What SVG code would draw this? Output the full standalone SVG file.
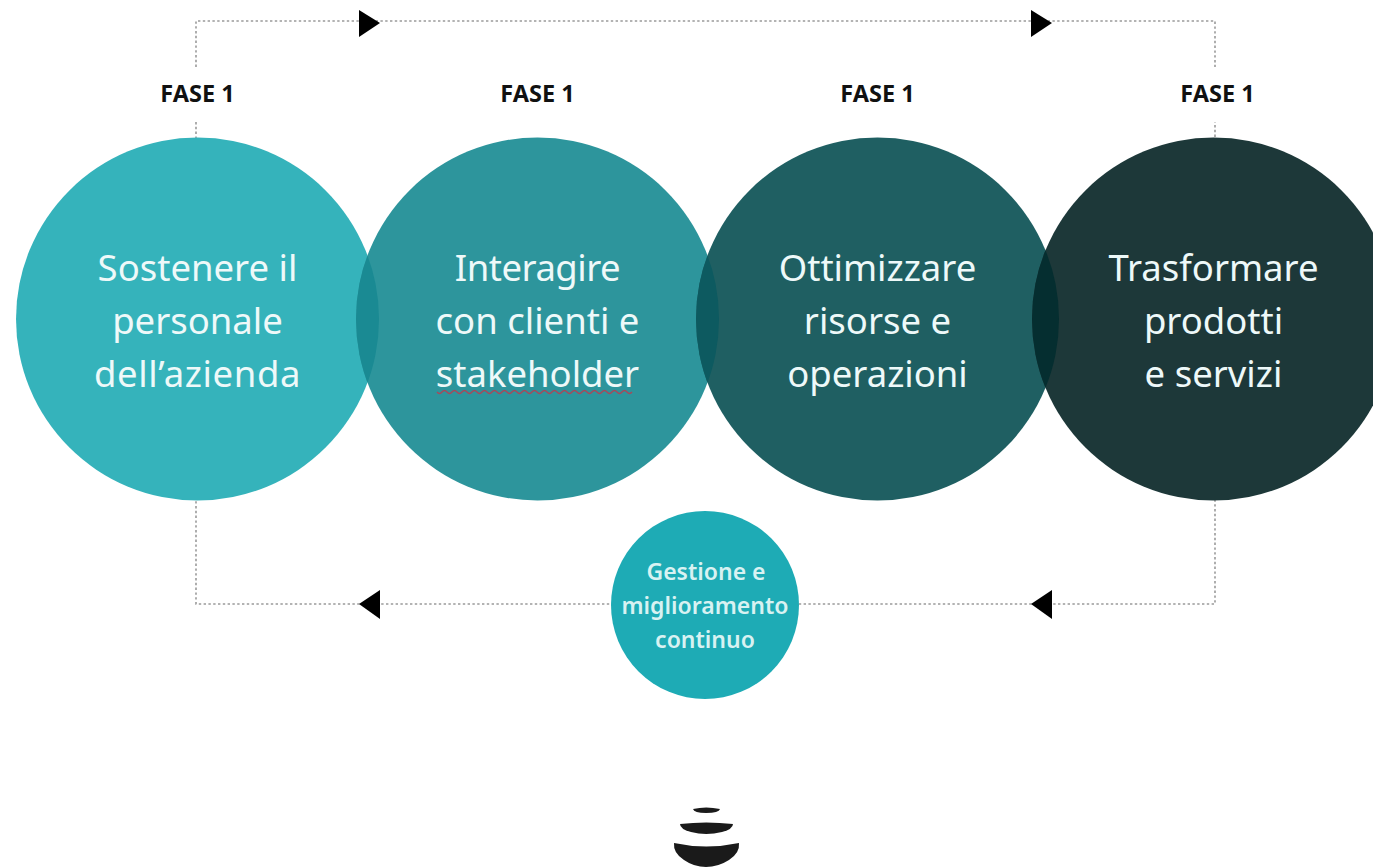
<svg xmlns="http://www.w3.org/2000/svg" width="1373" height="867" viewBox="0 0 1373 867">
<style>
text{font-family:"Noto Sans","Open Sans","Liberation Sans",sans-serif;text-anchor:middle}
.big{font-size:36.5px;fill:#eef9f9}
.small{font-size:23px;font-weight:600;fill:#d8f2f2}
.fase{font-size:23.5px;font-weight:700;fill:#111}
.dot{fill:none;stroke:#9a9a9a;stroke-width:1.6;stroke-dasharray:2.4 2.4}
.head{fill:#000}
</style>
<defs>
<clipPath id="c1"><circle cx="197.5" cy="319" r="181.5"/></clipPath>
<clipPath id="c2"><circle cx="537.5" cy="319" r="181.5"/></clipPath>
<clipPath id="c3"><circle cx="877.5" cy="319" r="181.5"/></clipPath>
</defs>
<rect width="1373" height="867" fill="#fff"/>
<g id="connectors">
<path class="dot" d="M196 67V21H1215V67"/>
<path class="dot" d="M196 122V604H1215V122"/>
<polygon class="head" points="359,10 380,23 359,37"/>
<polygon class="head" points="1031,10 1052,23 1031,37"/>
<polygon class="head" points="380,590 359,604 380,619"/>
<polygon class="head" points="1052,590 1031,604 1052,619"/>
</g>
<g id="node-1"><circle cx="197.5" cy="319" r="181.5" fill="#35b3bb"/>
<text class="big"><tspan x="197.5" y="281">Sostenere il</tspan><tspan x="197.5" y="334">personale</tspan><tspan x="197.5" y="387" letter-spacing="0.6">dell’azienda</tspan></text>
<text class="fase" x="197.5" y="102">FASE 1</text></g>
<g id="node-2"><circle cx="537.5" cy="319" r="181.5" fill="#2d959c"/>
<circle cx="537.5" cy="319" r="181.5" fill="#1a8a93" clip-path="url(#c1)"/>
<text class="big"><tspan x="537.5" y="281" letter-spacing="-0.5">Interagire</tspan><tspan x="537.5" y="334">con clienti e</tspan><tspan x="537.5" y="387">stakeholder</tspan></text>
<path d="M437 392q2.500 3 5 0t5 0t5 0t5 0t5 0t5 0t5 0t5 0t5 0t5 0t5 0t5 0t5 0t5 0t5 0t5 0t5 0t5 0t5 0t5 0t5 0t5 0t5 0t5 0t5 0t5 0t5 0t5 0t5 0t5 0t5 0t5 0t5 0t5 0t5 0t5 0t5 0t5 0t5 0" fill="none" stroke="#a8485a" stroke-width="1.400"/>
<text class="fase" x="537.5" y="102">FASE 1</text></g>
<g id="node-3"><circle cx="877.500" cy="319" r="181.500" fill="#1f5f62"/>
<circle cx="877.500" cy="319" r="181.500" fill="#0d5a60" clip-path="url(#c2)"/>
<text class="big"><tspan x="877.500" y="281">Ottimizzare</tspan><tspan x="877.500" y="334">risorse e</tspan><tspan x="877.500" y="387">operazioni</tspan></text>
<text class="fase" x="877.500" y="102">FASE 1</text></g>
<g id="node-4"><circle cx="1213.500" cy="319" r="181.500" fill="#1d3839"/>
<circle cx="1213.500" cy="319" r="181.500" fill="#052e30" clip-path="url(#c3)"/>
<text class="big"><tspan x="1213.500" y="281">Trasformare</tspan><tspan x="1213.500" y="334">prodotti</tspan><tspan x="1213.500" y="387">e servizi</tspan></text>
<text class="fase" x="1217.500" y="102">FASE 1</text></g>
<g id="node-5"><circle cx="705" cy="605" r="94" fill="#1eabb5"/>
<text class="small"><tspan x="706" y="580">Gestione e</tspan><tspan x="705" y="614">miglioramento</tspan><tspan x="705" y="648">continuo</tspan></text></g>
<g id="logo" fill="#1a1a1a">
<path d="M693 809Q706 806 720 809Q719 813 706 813Q694 813 693 809Z"/>
<path d="M680 824Q706 821 733 824Q733 829 722 832Q706 836 691 832Q680 829 680 824Z"/>
<path d="M674 843Q706 850 739 843Q740 853 729 860Q718 867 706 867Q694 867 684 860Q673 853 674 843Z"/>
</g>
</svg>
